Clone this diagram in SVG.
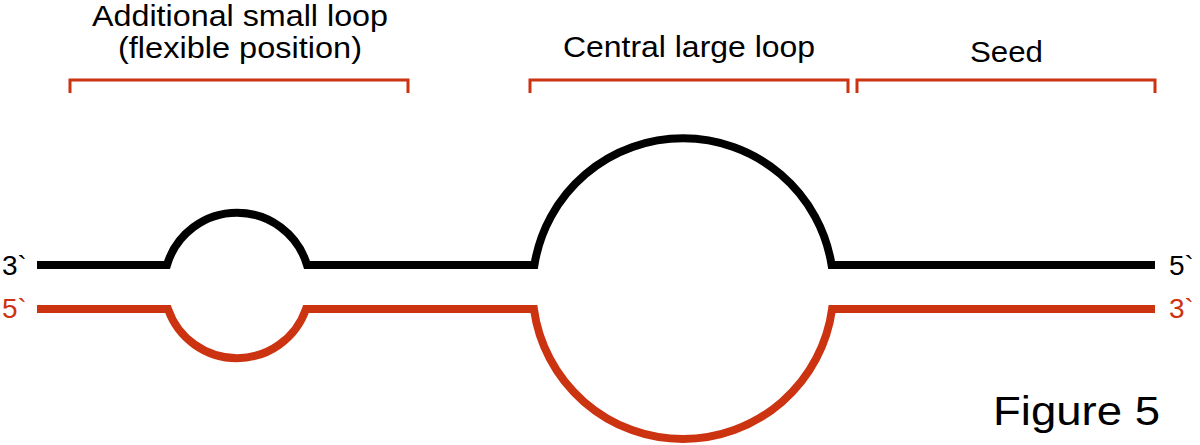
<svg xmlns="http://www.w3.org/2000/svg" width="1200" height="445" viewBox="0 0 1200 445">
<style>
.t{font-family:"Liberation Sans",Arial,sans-serif;fill:#000}
.r{fill:#cc3311}
.strand{fill:none;stroke-width:8;stroke-linejoin:miter}
.br{fill:none;stroke:#cc3311;stroke-width:3}
</style>
<rect width="1200" height="445" fill="#fff"/>
<g id="connectors">
<path id="black-strand" class="strand" stroke="#000" d="M37,265 H167 A73,73 0 0 1 307,265 H534.4 A150.5,150.5 0 0 1 831.6,265 H1155"/>
<path id="red-strand" class="strand" stroke="#cc3311" d="M37,309 H168 A73,73 0 0 0 306,309 H533.9 A150.5,150.5 0 0 0 832.1,309 H1155"/>
</g>
<g id="bracket-small"><path class="br" d="M70,93 V80 H408 V93"/></g>
<g id="bracket-central"><path class="br" d="M530,93 V80 H848 V93"/></g>
<g id="bracket-seed"><path class="br" d="M857,93 V80 H1155 V93"/></g>
<g id="label-small">
<text class="t" x="92" y="26" font-size="29" textLength="296" lengthAdjust="spacingAndGlyphs">Additional small loop</text>
<text class="t" x="118" y="58" font-size="29" textLength="244" lengthAdjust="spacingAndGlyphs">(flexible position)</text>
</g>
<g id="label-central"><text class="t" x="563" y="57" font-size="30" textLength="252" lengthAdjust="spacingAndGlyphs">Central large loop</text></g>
<g id="label-seed"><text class="t" x="970" y="62" font-size="30" textLength="73" lengthAdjust="spacingAndGlyphs">Seed</text></g>
<g id="ends">
<text class="t" x="2" y="275" font-size="28">3`</text>
<text class="t r" x="2" y="318" font-size="28">5`</text>
<text class="t" x="1169" y="275" font-size="28">5`</text>
<text class="t r" x="1169" y="318" font-size="28">3`</text>
</g>
<g id="figure-label"><text class="t" x="993" y="425" font-size="41" textLength="167" lengthAdjust="spacingAndGlyphs">Figure 5</text></g>
</svg>
